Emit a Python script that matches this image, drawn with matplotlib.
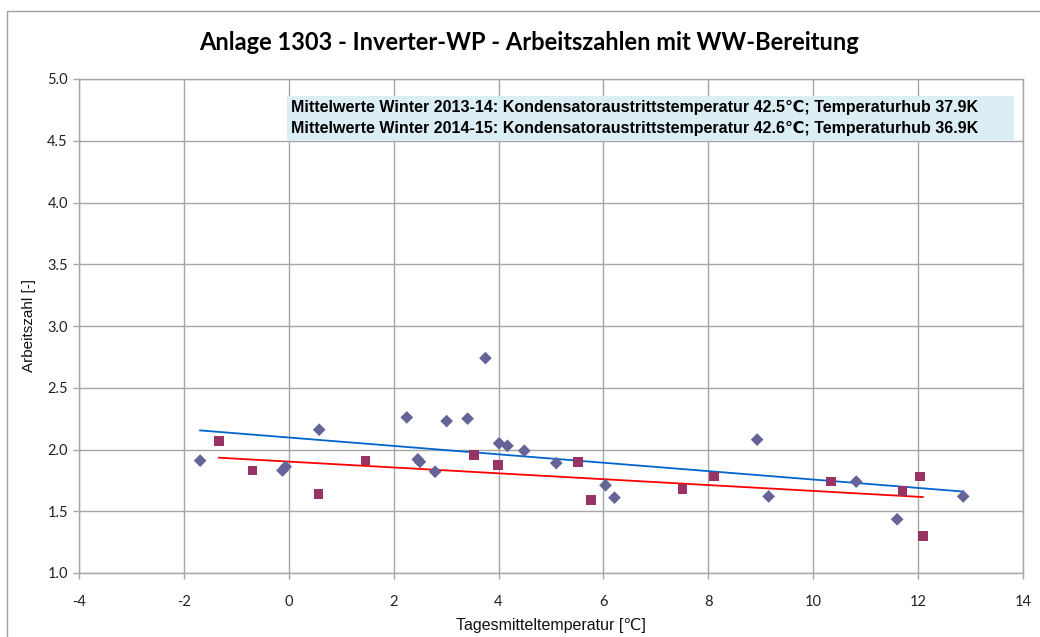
import numpy as np
import matplotlib
matplotlib.use("Agg")
import matplotlib.pyplot as plt
from matplotlib.patches import Rectangle

plt.rcParams['axes.unicode_minus'] = False

# Winter 2013-14 (blue diamonds)
x_1314 = [-1.69, -0.12, -0.06, 0.58, 2.25, 2.46, 2.50, 2.79, 3.01, 3.41, 3.75,
          4.01, 4.17, 4.49, 5.10, 6.04, 6.21, 8.93, 9.15, 10.82, 11.60, 12.86]
y_1314 = [1.91, 1.83, 1.86, 2.16, 2.26, 1.92, 1.90, 1.82, 2.23, 2.25, 2.74,
          2.05, 2.03, 1.99, 1.89, 1.71, 1.61, 2.08, 1.62, 1.74, 1.435, 1.62]

# Winter 2014-15 (red squares)
x_1415 = [-1.33, -0.69, 0.57, 1.46, 3.53, 3.99, 5.52, 5.76, 7.51, 8.11,
          10.34, 11.70, 12.04, 12.09]
y_1415 = [2.07, 1.83, 1.64, 1.91, 1.955, 1.875, 1.90, 1.59, 1.68, 1.78,
          1.74, 1.665, 1.78, 1.30]

title = "Anlage 1303 - Inverter-WP - Arbeitszahlen mit WW-Bereitung"
info_lines = ["Mittelwerte Winter 2013-14: Kondensatoraustrittstemperatur 42.5\u2103; Temperaturhub 37.9K",
              "Mittelwerte Winter 2014-15: Kondensatoraustrittstemperatur 42.6\u2103; Temperaturhub 36.9K"]
xlabel = "Tagesmitteltemperatur [\u2103]"
ylabel = "Arbeitszahl [-]"

fams = ["Liberation Sans", "DejaVu Sans"]

W, H = 1040, 637
fig = plt.figure(figsize=(W / 100, H / 100), dpi=100)
fig.patch.set_facecolor("white")

# outer chart frame
fig.add_artist(Rectangle((7 / W, -0.05), 1.2, (H - 11) / H + 0.05, transform=fig.transFigure,
                         fill=False, edgecolor="#a0a0a0", linewidth=1.0))

ax = fig.add_axes([79 / W, (H - 573) / H, (1023 - 79) / W, (573 - 79) / H])

grid_c = "#a6a6a6"
ax.set_xlim(-4, 14)
ax.set_ylim(1.0, 5.0)
ax.set_xticks(np.arange(-4, 15, 2))
ax.set_yticks(np.arange(1.0, 5.01, 0.5))
ax.set_yticklabels([f"{v:.1f}" for v in np.arange(1.0, 5.01, 0.5)])
ax.grid(True, color=grid_c, linewidth=1.0)
ax.set_axisbelow(True)
for s in ax.spines.values():
    s.set_color(grid_c)
    s.set_linewidth(1.0)
ax.tick_params(axis="both", colors=grid_c, labelcolor="#222222", labelsize=10.5, length=4, width=1)
for lab in ax.get_xticklabels() + ax.get_yticklabels():
    lab.set_family("Lato")
ax.tick_params(axis="x", pad=12)
ax.tick_params(axis="y", pad=4)

# trendlines (linear regression)
for xs, ys, c in [(x_1314, y_1314, "#0066cc"), (x_1415, y_1415, "#ff0000")]:
    k, d = np.polyfit(xs, ys, 1)
    xx = np.array([min(xs), max(xs)])
    ax.plot(xx, k * xx + d, color=c, linewidth=1.3, zorder=2)

ax.scatter(x_1314, y_1314, marker="D", s=42, color="#646498", edgecolors="none", zorder=3)
ax.scatter(x_1415, y_1415, marker="s", s=48, color="#993366", edgecolors="none", zorder=3)

ax.set_xlabel(xlabel, fontsize=11.5, family=fams, color="#111111", labelpad=6)
ax.set_ylabel(ylabel, fontsize=11, family=fams, color="#111111", labelpad=8)

fig.text(529 / W, 1 - 43 / H, title, ha="center", va="center", fontsize=17,
         fontweight="bold", family="Lato", color="#000000")

# info box
fig.add_artist(Rectangle((287 / W, 1 - 141 / H), (1014 - 287) / W, 45 / H,
                         transform=fig.transFigure, facecolor="#daeef3", edgecolor="none", zorder=5))
for i, line in enumerate(info_lines):
    fig.text(291 / W, 1 - (107 + 21.5 * i) / H, line, ha="left", va="center", fontsize=11.5,
             fontweight="bold", family=fams, color="#000000", zorder=6)

fig.savefig("out.png", dpi=100)
